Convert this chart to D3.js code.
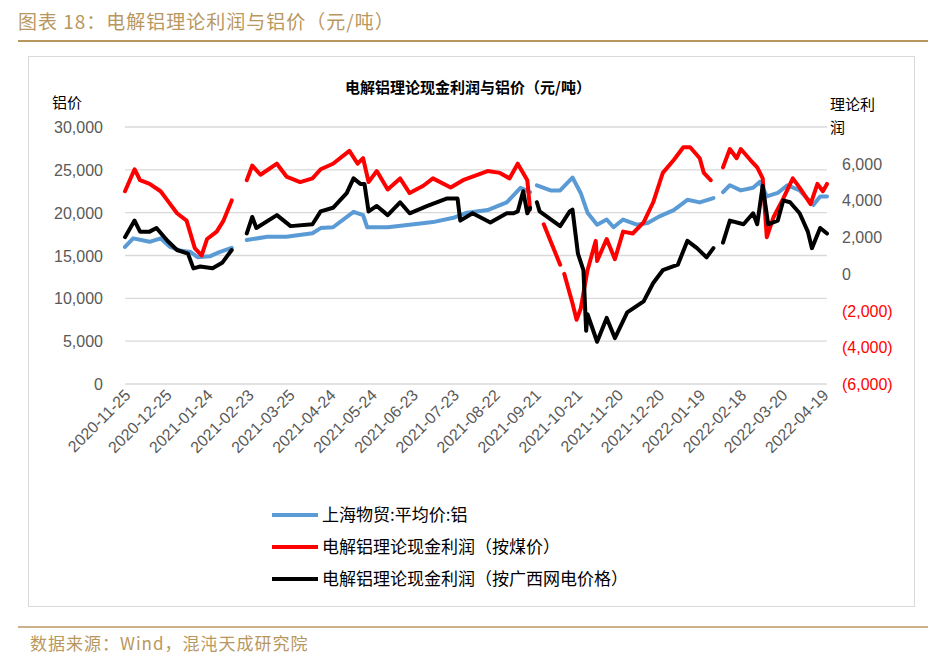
<!DOCTYPE html>
<html>
<head>
<meta charset="utf-8">
<script src="https://d3js.org/d3.v7.min.js"></script>
<style>
  body { margin: 0; background: #fff; font-family: "Noto Sans CJK SC", "Noto Sans", sans-serif; }
</style>
</head>
<body>
<script>
// day offsets from 2020-11-25, null = gap
const startDate = new Date(2020, 10, 25);
const tickDays = d3.range(0, 511, 30);

const priceDays = [0,6,18,26,33,40,48,53,62,69,78,83,89,104,118,137,143,152,167,174,177,192,208,225,240,250,265,279,289,296,298,301,311,318,327,333,338,345,352,357,364,374,382,391,401,411,420,430,433,437,442,450,459,464,469,477,484,493,503,508,513];
const priceVals = [16000,17000,16600,17000,16000,15600,15400,14800,14900,15400,15900,null,16800,17200,17200,17600,18200,18300,20100,19700,18300,18300,18600,18900,19400,20000,20300,21200,22900,22400,null,23200,22600,22600,24100,22300,20000,18600,19200,18300,19200,18600,18800,19600,20300,21500,21200,21700,null,22400,23200,22600,22900,23600,21900,22300,23200,22600,20900,21900,21900];

const coalDays = [0,7,11,18,26,31,38,45,51,56,60,67,72,78,83,89,93,99,111,118,128,137,143,152,164,170,174,178,184,192,201,208,218,225,238,247,265,274,281,287,294,296,298,306,318,320,321,327,330,333,338,344,345,352,358,364,371,379,386,393,401,408,413,420,423,428,433,437,442,447,450,457,462,466,469,474,481,488,493,501,506,510,513];
const coalVals = [4500,5700,5100,4900,4500,4000,3300,2900,1400,1000,1900,2300,2900,4000,null,5100,5900,5400,6000,5300,5000,5200,5700,6000,6700,6000,6300,5000,5600,4600,5200,4400,4800,5200,4700,5100,5600,5500,5200,6000,5100,3500,null,2700,500,null,0,-1600,-2500,-1900,200,1800,700,1900,800,2300,2200,2800,3900,5500,6200,6900,6900,6300,5500,5100,null,5800,6800,6300,6800,6200,5800,5200,2000,3100,4100,5200,4700,3800,4900,4500,4900];

const gridDays = [0,7,11,18,23,31,38,46,50,55,64,71,78,83,89,93,96,111,121,137,143,152,162,167,172,175,178,184,192,201,208,221,235,243,245,254,267,279,284,287,291,294,296,298,301,303,318,325,327,331,335,337,338,345,352,358,367,379,386,393,404,411,418,425,430,433,437,442,452,459,462,466,470,477,481,486,493,499,502,508,513];
const gridVals = [2000,2900,2300,2300,2500,1800,1300,1100,300,400,300,600,1300,null,2200,3100,2500,3200,2600,2700,3400,3600,4400,5200,4900,4900,3400,3700,3200,3900,3300,3700,4100,4100,2900,3300,2800,3300,3300,3400,4500,3300,3600,null,3900,3400,2600,3400,3500,1100,200,-3100,-2200,-3700,-2400,-3500,-2100,-1500,-500,200,500,1800,1400,900,1400,null,1700,2900,2700,3300,2700,4800,2700,2900,4000,3900,3300,2300,1400,2500,2200];

const leftTicks = [0,5000,10000,15000,20000,25000,30000];
const rightTicks = [-6000,-4000,-2000,0,2000,4000,6000];
const legendNames = ["上海物贸:平均价:铝", "电解铝理论现金利润（按煤价）", "电解铝理论现金利润（按广西网电价格）"];
const colors = ["#5b9bd5", "#ff0000", "#000000"];

const W = 952, H = 664;
const gold = "#b8975f";
const svg = d3.select("body").append("svg").attr("width", W).attr("height", H);

// header
svg.append("text").attr("x", 18).attr("y", 29).attr("fill", gold)
  .attr("font-size", 19).attr("letter-spacing", 1).text("图表 18：电解铝理论利润与铝价（元/吨）");
svg.append("line").attr("x1", 18).attr("x2", 928).attr("y1", 41).attr("y2", 41)
  .attr("stroke", gold).attr("stroke-width", 2);
svg.append("rect").attr("x", 28.5).attr("y", 56.5).attr("width", 886).attr("height", 550)
  .attr("fill", "none").attr("stroke", "#d9d9d9");
svg.append("line").attr("x1", 18).attr("x2", 928).attr("y1", 627).attr("y2", 627)
  .attr("stroke", gold).attr("stroke-width", 1.5);
svg.append("text").attr("x", 30).attr("y", 650).attr("fill", gold)
  .attr("font-size", 17).attr("letter-spacing", 1).text("数据来源：Wind，混沌天成研究院");

svg.append("text").attr("x", 468).attr("y", 93).attr("text-anchor", "middle")
  .attr("font-size", 15).attr("font-weight", "bold").attr("fill", "#000").text("电解铝理论现金利润与铝价（元/吨）");
svg.append("text").attr("x", 52).attr("y", 108).attr("font-size", 15).text("铝价");
svg.append("text").attr("x", 830).attr("y", 110).attr("font-size", 15).text("理论利");
svg.append("text").attr("x", 830).attr("y", 133).attr("font-size", 15).text("润");

const x = d3.scaleTime()
  .domain([startDate, d3.timeDay.offset(startDate, 513)])
  .range([125, 827]);
const yL = d3.scaleLinear().domain([0, 30000]).range([384, 127]);
const yR = d3.scaleLinear().domain([-6000, 8000]).range([384, 127]);
const dayDate = d => d3.timeDay.offset(startDate, d);

// grid
svg.append("g").selectAll("line").data(leftTicks).join("line")
  .attr("x1", 125).attr("x2", 827)
  .attr("y1", d => yL(d)).attr("y2", d => yL(d))
  .attr("stroke", "#d9d9d9").attr("stroke-width", 1.3);

const fmt = d3.format(",");
svg.append("g").selectAll("text").data(leftTicks).join("text")
  .attr("x", 103).attr("y", d => yL(d) + 6).attr("text-anchor", "end")
  .attr("font-size", 16).attr("fill", "#595959").attr("font-family", "Liberation Sans, Arial")
  .text(d => fmt(d));
svg.append("g").selectAll("text").data(rightTicks).join("text")
  .attr("x", 842).attr("y", d => yR(d) + 6)
  .attr("font-size", 16).attr("font-family", "Liberation Sans, Arial")
  .attr("fill", d => d < 0 ? "#ff0000" : "#595959")
  .text(d => d < 0 ? "(" + fmt(-d) + ")" : fmt(d));

// x axis labels
const xAxis = d3.axisBottom(x).tickValues(tickDays.map(dayDate))
  .tickFormat(d3.timeFormat("%Y-%m-%d")).tickSize(0);
const gx = svg.append("g").attr("transform", "translate(4,394)").call(xAxis);
gx.select(".domain").remove();
gx.selectAll("text")
  .attr("font-size", 16).attr("fill", "#595959").attr("font-family", "Liberation Sans, Arial")
  .attr("text-anchor", "end").attr("dx", 0).attr("dy", 0)
  .attr("transform", "rotate(-45)");

function drawLine(days, vals, scale, color) {
  const pts = days.map((d, i) => ({ d: dayDate(d), v: vals[i] }));
  const line = d3.line().defined(p => p.v !== null)
    .x(p => x(p.d)).y(p => scale(p.v));
  svg.append("path").datum(pts).attr("d", line)
    .attr("fill", "none").attr("stroke", color).attr("stroke-width", 4)
    .attr("stroke-linejoin", "round").attr("stroke-linecap", "round");
}
drawLine(priceDays, priceVals, yL, colors[0]);
drawLine(coalDays, coalVals, yR, colors[1]);
drawLine(gridDays, gridVals, yR, colors[2]);

// legend
const lg = svg.append("g").selectAll("g").data(legendNames).join("g")
  .attr("transform", (d, i) => `translate(272,${515 + i * 32})`);
lg.append("line").attr("x1", 0).attr("x2", 46).attr("stroke", (d, i) => colors[i]).attr("stroke-width", 4);
lg.append("text").attr("x", 50).attr("y", 6).attr("font-size", 17).attr("fill", "#000").text(d => d);
</script>
</body>
</html>
